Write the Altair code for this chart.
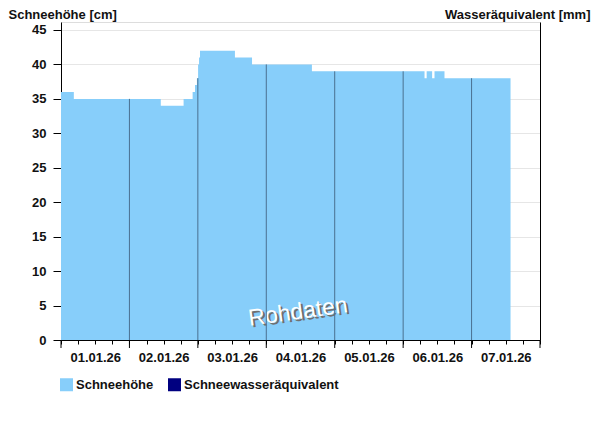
import altair as alt
import pandas as pd

# Change points of the snow depth series (step data, UTC)
times = ["2026-01-01T00:00", "2026-01-01T04:30", "2026-01-02T11:00", "2026-01-02T19:00",
         "2026-01-02T22:10", "2026-01-02T23:00", "2026-01-02T23:40", "2026-01-03T00:05",
         "2026-01-03T00:25", "2026-01-03T00:45", "2026-01-03T13:00", "2026-01-03T19:00",
         "2026-01-04T16:00", "2026-01-06T07:30", "2026-01-06T08:15", "2026-01-06T10:10",
         "2026-01-06T11:00", "2026-01-06T14:30", "2026-01-07T13:40"]
values = [36, 35, 34, 35, 36, 37, 38, 40, 41, 42, 41, 40, 39, 38, 39, 38, 39, 38, 38]

series_names = ["Schneehöhe", "Schneewasseräquivalent"]
series_colors = ["#87CEFA", "#000080"]

day_boundaries = ["2026-01-02T00:00", "2026-01-03T00:00", "2026-01-04T00:00",
                  "2026-01-05T00:00", "2026-01-06T00:00", "2026-01-07T00:00"]
x_start = "2026-01-01T00:00"
x_end = "2026-01-08T00:00"
y_ticks = [0, 5, 10, 15, 20, 25, 30, 35, 40, 45]
y_max = 46.16


def ms(ts):
    return int(pd.Timestamp(ts, tz="UTC").value // 10**6)


def value_at(ts):
    tt = pd.Timestamp(ts)
    v = values[0]
    for t0, v0 in zip(times, values):
        if pd.Timestamp(t0) <= tt:
            v = v0
    return v


df = pd.DataFrame({"t": [ms(t) for t in times], "v": values, "series": series_names[0]})
rules_df = pd.DataFrame({"t": [ms(d) for d in day_boundaries],
                         "v": [value_at(d) for d in day_boundaries]})
major_df = pd.DataFrame({"t": [ms(x_start)] + [ms(d) for d in day_boundaries] + [ms(x_end)]})

six_h = 6 * 3600 * 1000
tick_values = list(range(ms(x_start), ms(x_end) + 1, six_h))

x_scale = alt.Scale(type="utc", domain=[ms(x_start), ms(x_end)], nice=False)
y_scale = alt.Scale(domain=[0, y_max], nice=False, zero=True)

bold = "bold"
font = "Liberation Sans"
txt = "#111111"

x_axis = alt.Axis(values=tick_values, title=None, grid=False, tickSize=4, tickColor="black",
                  domainColor="black",
                  labelExpr="utchours(datum.value) == 12 ? utcFormat(datum.value, '%d.%m.%y') : ''",
                  labelOverlap=False, labelFontWeight=bold, labelFontSize=13, labelColor=txt,
                  labelPadding=7, labelFont=font, labelFlush=False)

y_axis = alt.Axis(values=y_ticks, title="Schneehöhe [cm]", titleAngle=0,
                  titleAlign="left", titleBaseline="alphabetic", titleX=-53, titleY=-4,
                  titleFontSize=13, titleFontWeight=bold, titleFont=font, titleColor=txt,
                  grid=True, gridColor="#e6e6e6", tickSize=8, tickColor="black",
                  domainColor="black", labelFontWeight=bold, labelFontSize=13, labelColor=txt,
                  labelPadding=7, labelFont=font)

area = alt.Chart(df).mark_area(interpolate="step-after").encode(
    x=alt.X("t:T", scale=x_scale, axis=x_axis),
    y=alt.Y("v:Q", scale=y_scale, axis=y_axis),
    color=alt.Color("series:N", scale=alt.Scale(domain=series_names, range=series_colors),
                    legend=alt.Legend(title=None, orient="none", legendX=-1, legendY=356,
                                      direction="horizontal", symbolType="square",
                                      symbolSize=169, symbolStrokeWidth=0, symbolOpacity=1,
                                      labelFontSize=13, labelFontWeight=bold, labelFont=font,
                                      labelColor=txt, labelOffset=3, columnPadding=14)),
)

right_axis = alt.Axis(orient="right", labels=False, ticks=False, grid=False, domainColor="black",
                      title="Wasseräquivalent [mm]", titleAngle=0, titleAlign="right",
                      titleBaseline="alphabetic", titleX=50, titleY=-4, titleFontSize=13,
                      titleFontWeight=bold, titleFont=font, titleColor=txt)

day_rules = alt.Chart(rules_df).mark_rule(color="#4a7090", strokeWidth=1).encode(
    x=alt.X("t:T", scale=x_scale, axis=x_axis),
    y=alt.Y("v:Q", scale=y_scale, axis=right_axis),
    y2=alt.datum(0),
)

major_ticks = alt.Chart(major_df).mark_rule(color="black", strokeWidth=1).encode(
    x=alt.X("t:T", scale=x_scale, axis=x_axis),
    y=alt.value(318),
    y2=alt.value(326),
)

wm_df = pd.DataFrame({"w": ["Rohdaten"]})
wm_shadow = alt.Chart(wm_df).mark_text(
    font=font, fontSize=23, angle=352, color="#707070", dx=2, dy=2
).encode(text="w:N", x=alt.value(237), y=alt.value(290))

wm = alt.Chart(wm_df).mark_text(
    font=font, fontSize=23, angle=352, color="white"
).encode(text="w:N", x=alt.value(237), y=alt.value(290))

chart = alt.layer(area, major_ticks, wm_shadow, wm, day_rules).resolve_scale(
    y="independent"
).properties(
    width=479, height=318, autosize="none",
    padding={"left": 53, "top": 14, "right": 52, "bottom": 70},
).configure_view(stroke=None).configure(background="white", font=font)

chart.save("out.html", embed_options={"renderer": "svg", "actions": False})
